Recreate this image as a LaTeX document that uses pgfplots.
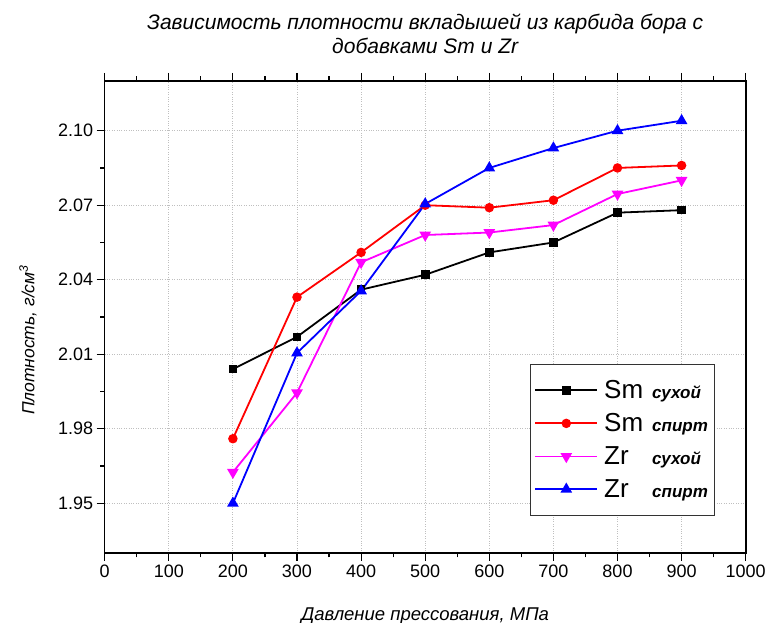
\documentclass[border=0pt]{standalone}
\usepackage{fontspec}
\setmainfont{Liberation Sans}
\usepackage{pgfplots}
\pgfplotsset{compat=1.18}
\definecolor{smdry}{RGB}{0,0,0}
\definecolor{smalc}{RGB}{255,0,0}
\definecolor{zrdry}{RGB}{255,0,255}
\definecolor{zralc}{RGB}{0,0,255}
% legend text: element symbol, then the medium in small bold italic
\newcommand{\legtext}[2]{\hspace{4pt}\makebox[48pt][l]{\fontsize{26}{26}\selectfont #1}{\fontsize{17}{17}\selectfont\bfseries\itshape #2}}

\begin{document}
\begin{tikzpicture}
\begin{axis}[
  scale only axis, width=641pt, height=472pt,
  xmin=0, xmax=1000, ymin=1.93, ymax=2.12,
  xtick={0,100,...,1000}, minor x tick num=1,
  ytick={1.95,1.98,2.01,2.04,2.07,2.10}, minor y tick num=1,
  xtick pos=both, ytick pos=left, tick align=outside,
  major tick length=8pt, minor tick length=4.5pt,
  every tick/.style={black, line width=1.2pt},
  axis line style={line width=1.6pt},
  grid=major, major grid style={dotted, black!25, line width=0.8pt},
  /pgf/number format/assume math mode=true,
  /pgf/number format/1000 sep={},
  y tick label style={/pgf/number format/.cd, fixed, fixed zerofill, precision=2},
  ticklabel style={font=\fontsize{18}{20}\selectfont},
  title={Зависимость плотности вкладышей из карбида бора с\\добавками Sm и Zr},
  title style={at={(axis description cs:0.5,1.0869)}, anchor=center, align=center,
    font=\itshape\fontsize{21}{24}\selectfont},
  xlabel={Давление прессования, МПа},
  xlabel style={at={(axis description cs:0.5,-0.133)}, anchor=center,
    font=\itshape\fontsize{18.5}{20}\selectfont},
  ylabel={Плотность, г/см\textsuperscript{3}},
  ylabel style={at={(axis description cs:-0.1197,0.4513)}, anchor=center,
    font=\itshape\fontsize{17.5}{20}\selectfont},
  legend image code/.code={\draw[mark repeat=2,mark phase=2]
    plot coordinates {(0pt,0pt) (31pt,0pt) (62pt,0pt)};},
  legend style={at={(axis description cs:0.6635,0.4004)}, anchor=north west,
    draw=black!80, line width=0.8pt, inner xsep=4pt, inner ysep=14pt,
    row sep=9.5pt, cells={anchor=west}},
]
\addplot[smdry, line width=1.8pt, mark=square*, mark size=3.4pt]
  coordinates {(200,2.004) (300,2.017) (400,2.036) (500,2.042)
               (600,2.051) (700,2.055) (800,2.067) (900,2.068)};
\addlegendentry{\legtext{Sm}{сухой}}
\addplot[smalc, line width=1.8pt, mark=*, mark size=3.8pt]
  coordinates {(200,1.976) (300,2.033) (400,2.051) (500,2.070)
               (600,2.069) (700,2.072) (800,2.085) (900,2.086)};
\addlegendentry{\legtext{Sm}{спирт}}
\addplot[zrdry, line width=1.8pt, mark=triangle*, mark size=5pt, mark options={rotate=180}]
  coordinates {(200,1.9625) (300,1.9945) (400,2.047) (500,2.058)
               (600,2.059) (700,2.062) (800,2.0745) (900,2.080)};
\addlegendentry{\legtext{Zr}{сухой}}
\addplot[zralc, line width=1.8pt, mark=triangle*, mark size=5pt]
  coordinates {(200,1.950) (300,2.0105) (400,2.0355) (500,2.0705)
               (600,2.085) (700,2.093) (800,2.100) (900,2.104)};
\addlegendentry{\legtext{Zr}{спирт}}
\end{axis}
\pgfresetboundingbox
\path[use as bounding box] (-104.7pt,-70pt) rectangle (667.3pt,553pt);
\end{tikzpicture}
\end{document}
